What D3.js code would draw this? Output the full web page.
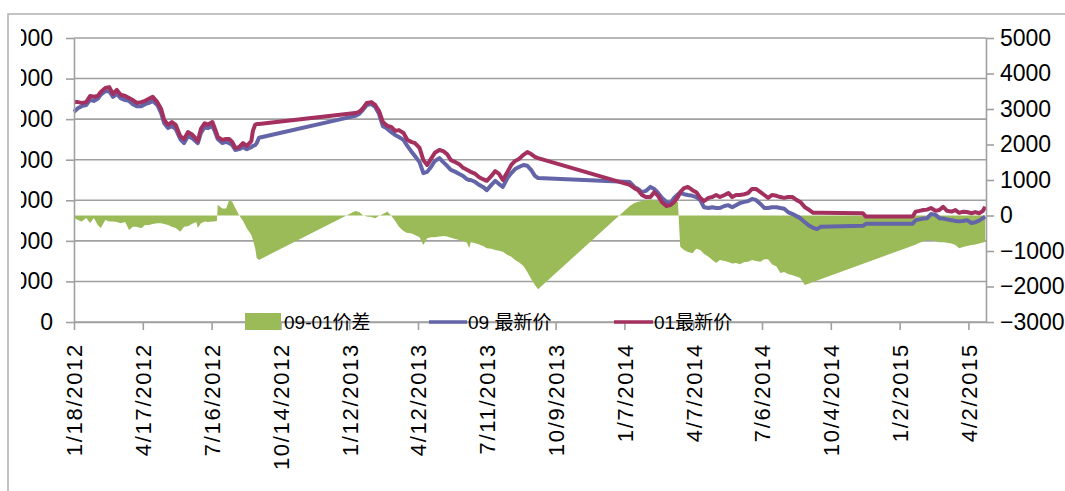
<!DOCTYPE html>
<html>
<head>
<meta charset="utf-8">
<script src="https://cdn.jsdelivr.net/npm/d3@7"></script>
<style>
  body { margin: 0; background: #fff; }
  svg { display: block; }
</style>
</head>
<body>
<div id="chart"></div>
<script>
// trading days (shared by all three series)
const dates = [
  // 2012
  "2012-01-18","2012-01-23","2012-01-28","2012-02-03","2012-02-08","2012-02-13","2012-02-18","2012-02-22","2012-02-28","2012-03-04",
  "2012-03-09","2012-03-14","2012-03-19","2012-03-25","2012-03-30","2012-04-04","2012-04-09","2012-04-15","2012-04-20","2012-04-25",
  "2012-04-30","2012-05-06","2012-05-11","2012-05-15","2012-05-20","2012-05-25","2012-05-30","2012-06-05","2012-06-10","2012-06-15",
  "2012-06-20","2012-06-26","2012-06-28","2012-07-02","2012-07-07","2012-07-11","2012-07-17","2012-07-20","2012-07-23","2012-07-24",
  "2012-07-30","2012-08-04","2012-08-08","2012-08-12","2012-08-16","2012-08-21","2012-08-26","2012-08-31","2012-09-06","2012-09-08",
  "2012-09-11","2012-09-13","2012-09-16",
  // 2013
  "2013-01-20","2013-01-25","2013-01-30","2013-02-04","2013-02-10","2013-02-15","2013-02-20","2013-02-25","2013-03-03","2013-03-08",
  "2013-03-13","2013-03-18","2013-03-24","2013-03-29","2013-04-03","2013-04-08","2013-04-14","2013-04-19","2013-04-24","2013-04-29",
  "2013-05-04","2013-05-10","2013-05-15","2013-05-20","2013-05-25","2013-05-31","2013-06-05","2013-06-10","2013-06-15","2013-06-18",
  "2013-06-20","2013-06-26","2013-07-01","2013-07-06","2013-07-11","2013-07-17","2013-07-22","2013-07-27","2013-08-01","2013-08-07",
  "2013-08-12","2013-08-17","2013-08-22","2013-08-28","2013-09-02","2013-09-07","2013-09-12","2013-09-16",
  // 2014
  "2014-01-14","2014-01-20","2014-01-25","2014-01-30","2014-02-04","2014-02-10","2014-02-15","2014-02-20","2014-02-25","2014-03-03",
  "2014-03-08","2014-03-13","2014-03-18","2014-03-21","2014-03-26","2014-03-31","2014-04-06","2014-04-11","2014-04-16","2014-04-21",
  "2014-04-27","2014-05-02","2014-05-07","2014-05-12","2014-05-18","2014-05-23","2014-05-28","2014-06-02","2014-06-07","2014-06-13",
  "2014-06-18","2014-06-23","2014-06-28","2014-07-04","2014-07-09","2014-07-14","2014-07-19","2014-07-25","2014-07-30","2014-08-04",
  "2014-08-09","2014-08-15","2014-08-20","2014-08-25","2014-08-31","2014-09-06","2014-09-11","2014-09-16","2014-09-21","2014-11-15",
  "2014-11-19","2015-01-19",
  // 2015
  "2015-01-23","2015-01-28","2015-02-02","2015-02-07","2015-02-12","2015-02-18","2015-02-23","2015-02-28","2015-03-05","2015-03-11",
  "2015-03-16","2015-03-21","2015-03-26","2015-03-31","2015-04-06","2015-04-11","2015-04-16","2015-04-21","2015-04-24"
];

// 09 contract price (left axis)
const price09 = [
  5180,5270,5320,5350,5470,5450,5500,5600,5690,5690,
  5550,5620,5520,5470,5450,5370,5320,5320,5370,5400,
  5450,5350,5150,4900,4780,4830,4760,4510,4410,4580,
  4540,4440,4410,4660,4810,4780,4830,4710,4560,4510,
  4410,4440,4410,4360,4240,4260,4310,4260,4310,4340,
  4360,4410,4540,
  5080,5130,5230,5350,5370,5300,5130,4830,4760,4680,
  4610,4560,4490,4340,4210,4090,3940,3670,3700,3820,
  3970,4040,3940,3850,3750,3700,3650,3600,3520,3500,
  3500,3450,3380,3330,3250,3380,3480,3400,3330,3550,
  3670,3770,3820,3870,3850,3750,3600,3550,
  3450,3330,3280,3200,3230,3330,3280,3180,3060,2960,
  2930,3060,3150,3180,3150,3130,3110,3080,3010,2830,
  2810,2830,2810,2810,2860,2880,2830,2880,2930,2960,
  2980,3030,3010,2910,2810,2810,2830,2830,2810,2790,
  2710,2660,2610,2560,2460,2370,2320,2290,2350,2370,
  2420,2420,
  2510,2530,2550,2560,2660,2640,2560,2550,2530,2510,
  2490,2480,2490,2510,2440,2460,2500,2560,2600
];

// 01 contract price (left axis)
const price01 = [
  5420,5420,5400,5420,5570,5550,5570,5670,5770,5790,
  5620,5720,5600,5570,5520,5470,5400,5420,5450,5500,
  5550,5420,5250,4980,4860,4930,4860,4580,4510,4680,
  4630,4510,4460,4760,4900,4860,4930,4780,4630,4560,
  4490,4510,4510,4440,4290,4310,4410,4340,4460,4710,
  4860,4880,4880,
  5150,5180,5270,5400,5420,5350,5200,4930,4830,4810,
  4710,4730,4660,4490,4440,4410,4290,3990,3870,4020,
  4170,4240,4210,4140,3990,3940,3890,3800,3750,3720,
  3700,3650,3570,3520,3480,3600,3720,3650,3500,3700,
  3870,3970,4020,4120,4190,4140,4070,4040,
  3380,3300,3250,3130,3080,3080,3200,3110,2960,2860,
  2880,2960,3080,3200,3300,3330,3250,3200,3060,2980,
  3060,3080,3130,3080,3130,3180,3080,3130,3130,3150,
  3180,3280,3280,3200,3130,3060,3130,3110,3080,3060,
  3080,3080,3010,2960,2830,2760,2690,2690,2690,2680,
  2600,2600,
  2720,2740,2760,2770,2810,2740,2760,2840,2740,2720,
  2760,2690,2720,2710,2680,2710,2680,2740,2840
];

// 09-01 spread (right axis), null where no value
const spread = [
  -60,-130,-170,-70,-210,-70,-270,-350,-130,-170,
  -170,-180,-220,-180,-410,-320,-320,-360,-270,-270,
  -240,-220,-220,-240,-270,-320,-350,-460,-320,-300,
  -240,-180,-350,-220,-170,-180,-170,-170,-150,300,
  200,200,440,390,210,10,-150,-360,-550,-690,
  -920,-1200,-1250,
  130,100,10,-30,-40,-80,-10,40,110,-10,
  -150,-320,-440,-490,-500,-550,-610,-830,-640,-610,
  -610,-590,-580,-590,-630,-660,-690,-720,-770,-920,
  -750,-780,-820,-860,-920,-940,-970,-990,-1020,-1110,
  -1160,-1250,-1320,-1420,-1590,-1790,-1960,-2080,
  270,350,390,410,440,450,440,410,380,410,
  380,410,380,-880,-970,-1030,-1060,-940,-970,-1080,
  -1160,-1250,-1340,-1250,-1280,-1310,-1350,-1340,-1370,-1310,
  -1300,-1250,-1280,-1300,-1230,-1230,-1370,-1440,-1620,-1590,
  -1650,-1680,-1720,-1760,-1960,null,null,null,null,null,
  null,-850,
  -820,-770,-730,-690,-700,-720,-750,-750,-770,-790,
  -830,-920,-890,-860,-830,-820,-790,-760,-740
];

const xTickLabels = ["1/18/2012","4/17/2012","7/16/2012","10/14/2012","1/12/2013","4/12/2013","7/11/2013",
  "10/9/2013","1/7/2014","4/7/2014","7/6/2014","10/4/2014","1/2/2015","4/2/2015"];
const leftTicks = [0, 1000, 2000, 3000, 4000, 5000, 6000, 7000];
const rightTicks = [-3000, -2000, -1000, 0, 1000, 2000, 3000, 4000, 5000];
const legendLabels = ["09-01价差", "09 最新价", "01最新价"];

const width = 1065, height = 491;
const plot = { left: 74, right: 986, top: 38, bottom: 322 };
const grey = '#a0a0a0';
const green = '#9bbb59', blue = '#6464a8', red = '#a3305f';
const font = "'Liberation Sans', Arial, sans-serif";

const parseDay = d3.timeParse('%Y-%m-%d');
const parseLabel = d3.timeParse('%m/%d/%Y');
const days = dates.map(parseDay);

const x = d3.scaleTime()
    .domain([parseDay('2012-01-18'), parseDay('2015-04-25')])
    .range([plot.left, plot.right]);
const yL = d3.scaleLinear().domain([0, 7000]).range([plot.bottom, plot.top]);
const yR = d3.scaleLinear().domain([-3000, 5000]).range([plot.bottom, plot.top]);

const svg = d3.select('#chart').append('svg')
    .attr('width', width)
    .attr('height', height);

// outer chart border (left and top edges only are in frame)
svg.append('path')
    .attr('d', `M8,${height} V14 H${width}`)
    .attr('fill', 'none')
    .attr('stroke', '#b0b0b0')
    .attr('stroke-width', 1.5);

// horizontal gridlines follow the primary axis
svg.append('g').selectAll('line')
    .data(leftTicks)
    .enter()
    .append('line')
    .attr('x1', plot.left)
    .attr('x2', plot.right)
    .attr('y1', d => yL(d))
    .attr('y2', d => yL(d))
    .attr('stroke', grey)
    .attr('stroke-width', 1.6);

// spread area, drawn straight across missing days like Excel does
const spreadPts = days.map((d, i) => ({ date: d, v: spread[i] })).filter(d => d.v !== null);
svg.append('path')
    .datum(spreadPts)
    .attr('fill', green)
    .attr('d', d3.area()
        .x(d => x(d.date))
        .y0(yR(0))
        .y1(d => yR(d.v)));

const priceLine = d3.line()
    .x(d => x(d.date))
    .y(d => yL(d.v));

[[price09, blue], [price01, red]].forEach(([series, color]) => {
    svg.append('path')
        .datum(days.map((d, i) => ({ date: d, v: series[i] })))
        .attr('fill', 'none')
        .attr('stroke', color)
        .attr('stroke-width', 4)
        .attr('stroke-linejoin', 'round')
        .attr('d', priceLine);
});

function styleAxis(g) {
    g.select('.domain').attr('stroke', grey).attr('stroke-width', 1.6);
    g.selectAll('.tick line').attr('stroke', grey).attr('stroke-width', 1.6);
    g.selectAll('text').attr('fill', '#000').style('font-family', font);
}

// left axis, its labels are cut by the picture edge (clip is in the group's own coords)
svg.append('clipPath').attr('id', 'leftClip')
    .append('rect').attr('x', 21 - plot.left).attr('y', 0).attr('width', 100).attr('height', height);

svg.append('g')
    .attr('transform', `translate(${plot.left},0)`)
    .attr('clip-path', 'url(#leftClip)')
    .call(d3.axisLeft(yL).tickValues(leftTicks).tickSize(8).tickSizeOuter(0).tickPadding(13)
        .tickFormat(d3.format('d')))
    .call(styleAxis)
    .selectAll('text').style('font-size', '23px');

// right axis
svg.append('g')
    .attr('transform', `translate(${plot.right},0)`)
    .call(d3.axisRight(yR).tickValues(rightTicks).tickSize(8).tickSizeOuter(0).tickPadding(6)
        .tickFormat(d3.format('d')))
    .call(styleAxis)
    .selectAll('text').style('font-size', '23px');

// bottom date axis, 90 days per tick
const tickDates = xTickLabels.map(parseLabel);
const xAxis = svg.append('g')
    .attr('transform', `translate(0,${plot.bottom})`)
    .call(d3.axisBottom(x).tickValues(tickDates).tickSize(8).tickSizeOuter(0)
        .tickFormat((d, i) => xTickLabels[i]))
    .call(styleAxis);

xAxis.selectAll('text')
    .attr('transform', 'rotate(-90)')
    .attr('text-anchor', 'end')
    .attr('x', -21)
    .attr('y', 0)
    .attr('dy', '0.36em')
    .style('font-size', '22px')
    .style('letter-spacing', '1.7px');

// legend sits on the axis line
const legend = svg.append('g').style('font-family', "'Liberation Sans', 'Noto Sans CJK SC', sans-serif");
legend.append('rect')
    .attr('x', 245).attr('y', 313)
    .attr('width', 36).attr('height', 17)
    .attr('fill', green);
legend.append('line')
    .attr('x1', 429).attr('x2', 467).attr('y1', 322).attr('y2', 322)
    .attr('stroke', blue).attr('stroke-width', 3.5);
legend.append('line')
    .attr('x1', 614).attr('x2', 653).attr('y1', 322).attr('y2', 322)
    .attr('stroke', red).attr('stroke-width', 3.5);

legend.selectAll('text')
    .data(legendLabels)
    .enter()
    .append('text')
    .attr('x', (d, i) => [284, 468, 654][i])
    .attr('y', 329)
    .style('font-size', '19px')
    .attr('fill', '#000')
    .text(d => d);
</script>
</body>
</html>
